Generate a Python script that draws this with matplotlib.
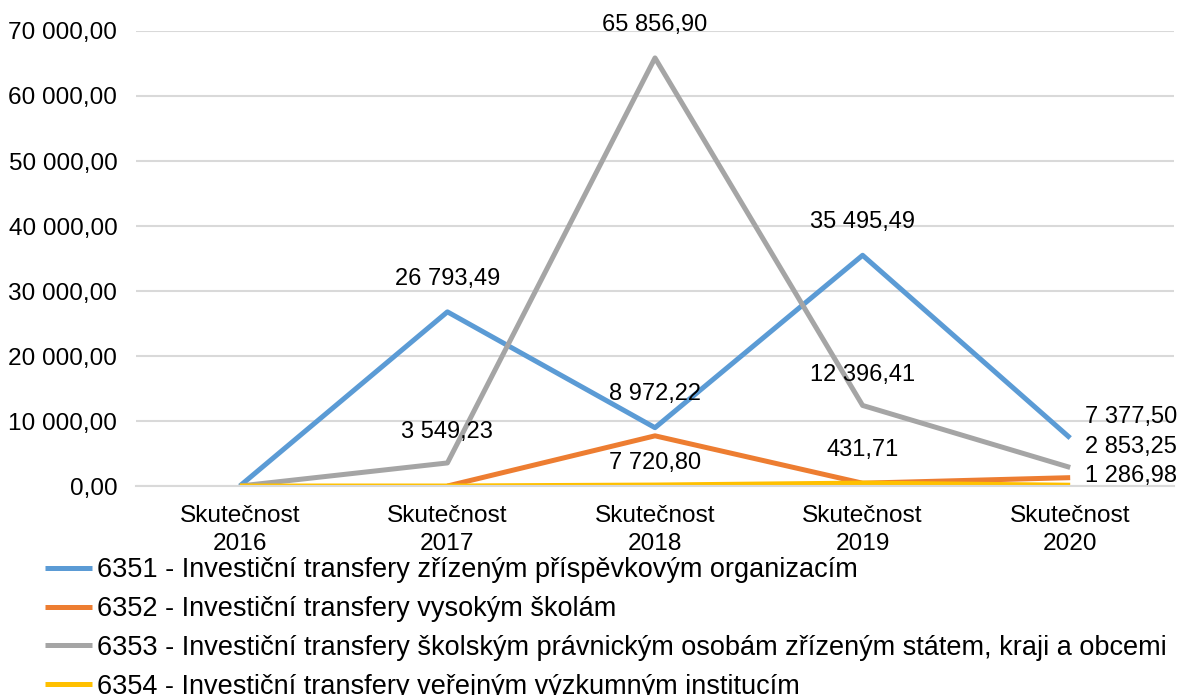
import matplotlib.pyplot as plt
import numpy as np

categories = ["Skutečnost\n2016", "Skutečnost\n2017", "Skutečnost\n2018",
              "Skutečnost\n2019", "Skutečnost\n2020"]
s6351 = [0, 26793.49, 8972.22, 35495.49, 7377.50]
s6352 = [np.nan, 0, 7720.80, 431.71, 1286.98]
s6353 = [0, 3549.23, 65856.90, 12396.41, 2853.25]
s6354 = [0, 0, 150, 450, 120]
names = ["6351 - Investiční transfery zřízeným příspěvkovým organizacím",
         "6352 - Investiční transfery vysokým školám",
         "6353 - Investiční transfery školským právnickým osobám zřízeným státem, kraji a obcemi",
         "6354 - Investiční transfery veřejným výzkumným institucím"]
colors = ["#5B9BD5", "#ED7D31", "#A5A5A5", "#FFC000"]
yticks = [0, 10000, 20000, 30000, 40000, 50000, 60000, 70000]

plt.rcParams['font.family'] = ['Liberation Sans', 'DejaVu Sans']
fs = 17
fs_tick = 17.6
fs_leg = 19.5


def fmt(v):
    s = f"{v:,.2f}"
    return s.replace(",", " ").replace(".", ",")


fig = plt.figure(figsize=(11.88, 6.95), dpi=100)
ax = fig.add_axes([0.1145, 0.3007, 0.8737, 0.6547])
x = np.arange(len(categories))

all_series = [s6351, s6352, s6353, s6354]
for vals, name, c in zip(all_series, names, colors):
    ax.plot(x, vals, color=c, lw=3.6, label=name, solid_capstyle='butt')

# data labels (zeros hidden), offsets in points
label_off = {
    0: [None, (0, 24), (0, 24), (0, 24), (11, 15)],
    1: [None, None, (0, -19.5), (0, 24), (11, 1.5)],
    2: [None, (0, 22), (0, 24), (0, 22), (11, 15)],
}
for si, offs in label_off.items():
    vals = all_series[si]
    for i, off in enumerate(offs):
        if off is None:
            continue
        ha = 'left' if off[0] > 0 else 'center'
        ax.annotate(fmt(vals[i]), (x[i], vals[i]), xytext=off, textcoords='offset points',
                    ha=ha, va='center', fontsize=fs, annotation_clip=False)

ax.set_xlim(-0.5, len(categories) - 0.5)
ax.set_ylim(0, 70000)
ax.set_yticks(yticks)
ax.set_yticklabels([fmt(v) for v in yticks])
ax.set_xticks(x)
ax.set_xticklabels(categories, linespacing=1.3)
ax.tick_params(axis='both', length=0, labelsize=fs_tick)
ax.tick_params(axis='y', pad=13.5)
ax.tick_params(axis='x', pad=14)
ax.grid(axis='y', color='#D9D9D9', lw=1.5)
ax.set_axisbelow(True)
for sp in ['top', 'right', 'left']:
    ax.spines[sp].set_visible(False)
ax.spines['bottom'].set_color('#D9D9D9')
ax.spines['bottom'].set_linewidth(1.5)

fig.legend(loc='upper left', bbox_to_anchor=(0.038, 0.198), frameon=False,
           fontsize=fs_leg, handlelength=1.74, handletextpad=0.18, labelspacing=0.47,
           borderaxespad=0, borderpad=0)

fig.savefig("out.png", dpi=100)
